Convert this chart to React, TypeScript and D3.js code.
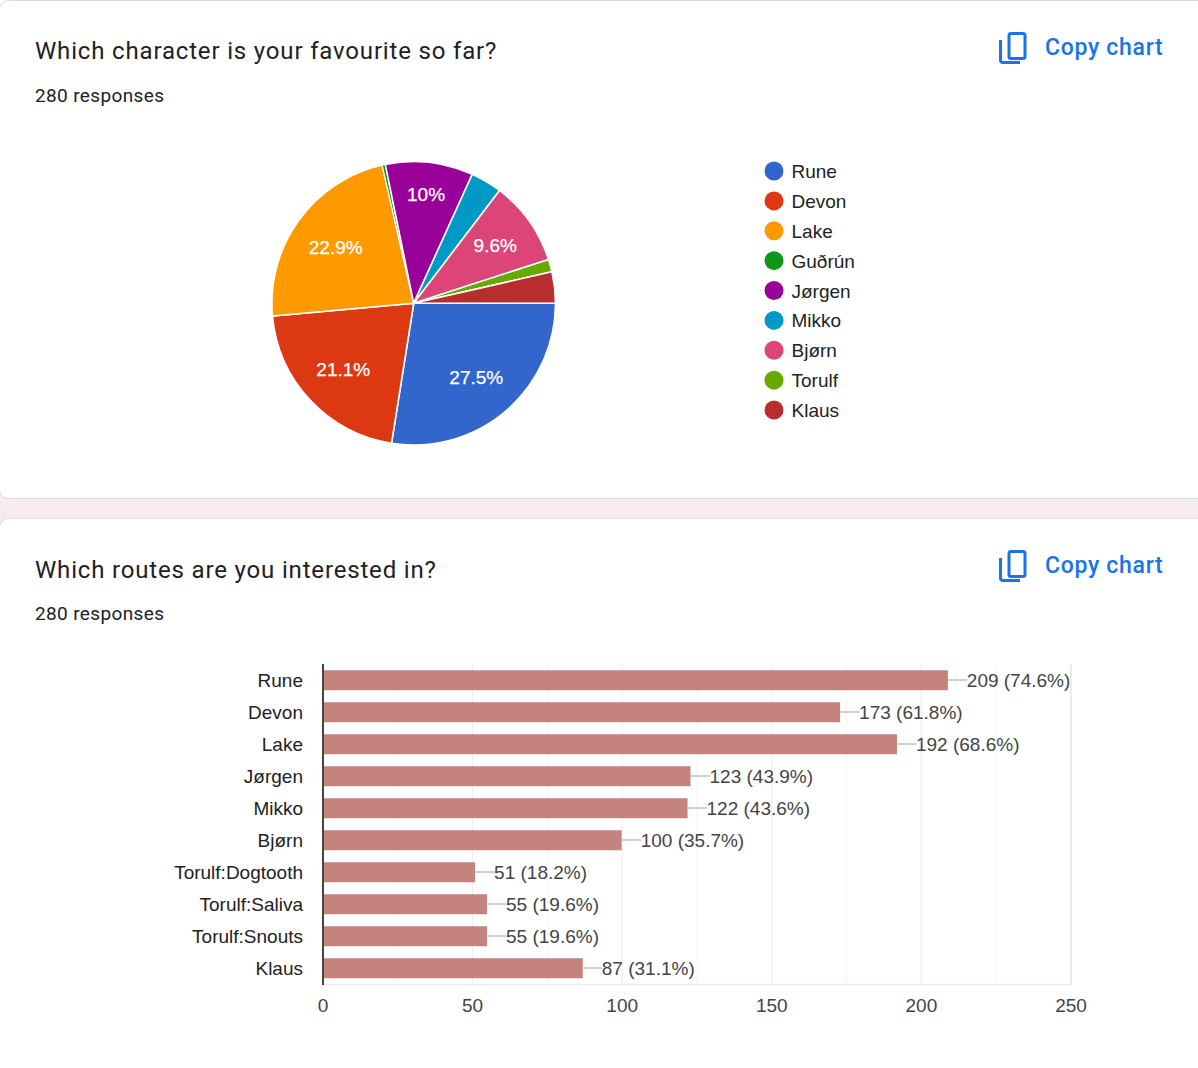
import React from "react";
import * as d3 from "d3";

const pieNames = ["Rune", "Devon", "Lake", "Guðrún", "Jørgen", "Mikko", "Bjørn", "Torulf", "Klaus"];
const pieCounts = [77, 59, 64, 1, 28, 10, 27, 4, 10];
const pieLabels = ["27.5%", "21.1%", "22.9%", "", "10%", "", "9.6%", "", ""];
const pieLabelRadii = [0.68, 0.68, 0.68, 0, 0.775, 0, 0.705, 0, 0];
const pieColors = ["#3366cc", "#dc3912", "#ff9900", "#109618", "#990099", "#0099c6", "#dd4477", "#66aa00", "#b82e2e"];

const barNames = ["Rune", "Devon", "Lake", "Jørgen", "Mikko", "Bjørn", "Torulf:Dogtooth", "Torulf:Saliva", "Torulf:Snouts", "Klaus"];
const barValues = [209, 173, 192, 123, 122, 100, 51, 55, 55, 87];
const barPercents = ["74.6%", "61.8%", "68.6%", "43.9%", "43.6%", "35.7%", "18.2%", "19.6%", "19.6%", "31.1%"];
const xTicks = [0, 50, 100, 150, 200, 250];
const xMinorTicks = [25, 75, 125, 175, 225];

const ARIAL = "'Liberation Sans', Arial, sans-serif";
const HEAD = "Roboto, Arial, sans-serif";
const BLUE = "#1a73e8";

function CopyIcon({ x, y }: { x: number; y: number }) {
  return (
    <g transform={`translate(${x},${y})`} fill="none" stroke={BLUE} strokeWidth={3}>
      <rect x={10} y={2.5} width={16} height={25} rx={2} />
      <path d="M1.5 9 V29 a2.5 2.5 0 0 0 2.5 2.5 H21" />
    </g>
  );
}

function Header({ title, y, titleY }: { title: string; y: number; titleY: number }) {
  return (
    <g>
      <text x={35} y={titleY} fontFamily={HEAD} fontSize={24} letterSpacing={0.83} fill="#202124">{title}</text>
      <text x={35} y={y + 102} fontFamily={HEAD} fontSize={19} letterSpacing={0.37} fill="#202124">280 responses</text>
      <CopyIcon x={999} y={y + 31} />
      <text x={1045} y={y + 55} fontFamily={HEAD} fontSize={23} fontWeight={500} letterSpacing={0.7} fill={BLUE}>Copy chart</text>
    </g>
  );
}

function Pie() {
  const cx = 413.7, cy = 303.3, r = 141.8;
  const pie = d3.pie<number>().sort(null).startAngle(Math.PI / 2).endAngle(Math.PI * 2.5);
  const arcs = pie(pieCounts);
  const arc = d3.arc<d3.PieArcDatum<number>>().innerRadius(0).outerRadius(r);
  const labelArc = d3.arc<d3.PieArcDatum<number>>();
  const legendY = d3.scalePoint<string>().domain(pieNames).range([171, 410]);
  return (
    <g>
      <g transform={`translate(${cx},${cy})`}>
        {arcs.map((a, i) => (
          <path key={i} d={arc(a) as string} fill={pieColors[i]} stroke="#fff" strokeWidth={pieCounts[i] < 2 ? 1.2 : 1.6} />
        ))}
        {arcs.map((a, i) => {
          if (!pieLabels[i]) return null;
          const lr = r * pieLabelRadii[i];
          const [lx, ly] = labelArc.centroid({ ...a, innerRadius: lr, outerRadius: lr } as any);
          return (
            <text key={i} x={lx} y={ly + 7} textAnchor="middle" fontFamily={ARIAL} fontSize={19} fontWeight={400} stroke="#fff" strokeWidth={0.25} fill="#fff">{pieLabels[i]}</text>
          );
        })}
      </g>
      {pieNames.map((n, i) => (
        <g key={n}>
          <circle cx={774} cy={legendY(n)} r={9.5} fill={pieColors[i]} />
          <text x={791.5} y={(legendY(n) as number) + 7} fontFamily={ARIAL} fontSize={19} fill="#222">{n}</text>
        </g>
      ))}
    </g>
  );
}

function Bars() {
  const top = 664, bottom = 984;
  const x = d3.scaleLinear().domain([0, 250]).range([323, 1071]);
  const y = d3.scaleBand<string>().domain(barNames).range([top, bottom]).paddingInner(0.375).paddingOuter(0.1875);
  return (
    <g>
      {xMinorTicks.map((t) => (
        <line key={t} x1={x(t)} x2={x(t)} y1={top} y2={bottom} stroke="#f5f5f5" strokeWidth={1} />
      ))}
      {xTicks.slice(1).map((t) => (
        <line key={t} x1={x(t)} x2={x(t)} y1={top} y2={bottom + 1} stroke={t === 250 ? "#ececec" : "#eeeeee"} strokeWidth={t === 250 ? 2 : 1.2} />
      ))}
      <line x1={323} x2={1072} y1={bottom + 0.5} y2={bottom + 0.5} stroke="#ececec" strokeWidth={1.5} />
      {barNames.map((n, i) => {
        const by = y(barNames[i]) as number;
        const mid = by + y.bandwidth() / 2;
        const end = x(barValues[i]);
        return (
          <g key={i}>
            <rect x={323} y={by + 0.25} width={end - 323 - 0.5} height={y.bandwidth()} fill="#c5837e" />
            <line x1={end} x2={end + 19} y1={mid} y2={mid} stroke="#9e9e9e" strokeWidth={1} />
            <text x={end + 18.5} y={mid + 6.5} fontFamily={ARIAL} fontSize={19} fill="#444">{`${barValues[i]} (${barPercents[i]})`}</text>
            <text x={303} y={mid + 6.5} textAnchor="end" fontFamily={ARIAL} fontSize={19} fill="#222">{n}</text>
          </g>
        );
      })}
      <line x1={323} x2={323} y1={top} y2={bottom + 1} stroke="#444" strokeWidth={2} />
      {xTicks.map((t) => (
        <text key={t} x={x(t)} y={1012} textAnchor="middle" fontFamily={ARIAL} fontSize={19} fill="#444">{t}</text>
      ))}
    </g>
  );
}

export default function App() {
  return (
    <div style={{ position: "absolute", left: 0, top: 0, width: 1198, height: 1068, overflow: "hidden", background: "#fff" }}>
      <svg width={1198} height={1068} style={{ display: "block" }}>
        <rect x={0} y={480} width={1198} height={60} fill="#f6ecec" />
        <rect x={-0.5} y={0.5} width={1220} height={498} rx={9} fill="#fff" stroke="#dadce0" strokeWidth={1} />
        <rect x={-0.5} y={518.5} width={1220} height={560} rx={9} fill="#fff" stroke="#dadce0" strokeWidth={1} />
        <Header title="Which character is your favourite so far?" y={0} titleY={59} />
        <Header title="Which routes are you interested in?" y={518} titleY={578} />
        <Pie />
        <Bars />
      </svg>
    </div>
  );
}
